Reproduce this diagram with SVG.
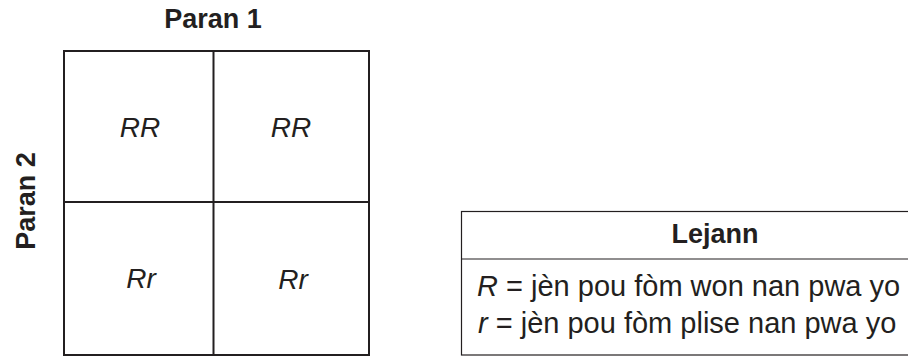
<svg xmlns="http://www.w3.org/2000/svg" width="908" height="358" viewBox="0 0 908 358">
<style>
text{font-family:"Liberation Sans",Arial,sans-serif;fill:#231f20;font-size:27px}
.b{font-weight:bold}
.i{font-style:italic}
.c{font-size:28px}
.lg{font-size:29px}
.ln{stroke:#231f20;fill:none}
</style>
<rect width="908" height="358" fill="#fff"/>
<g id="title"><text class="b" x="213" y="28" text-anchor="middle">Paran 1</text></g>
<g id="side"><text class="b" x="0" y="0" text-anchor="middle" transform="translate(35,201) rotate(-90)">Paran 2</text></g>
<g id="grid">
<rect class="ln" x="64" y="51" width="305" height="304" stroke-width="2"/>
<line class="ln" x1="213.5" y1="51" x2="213.5" y2="355" stroke-width="2"/>
<line class="ln" x1="64" y1="202" x2="369" y2="202" stroke-width="2"/>
</g>
<g id="c11"><text class="i c" x="140" y="137" text-anchor="middle">RR</text></g>
<g id="c12"><text class="i c" x="291" y="137" text-anchor="middle">RR</text></g>
<g id="c21"><text class="i c" x="141" y="288" text-anchor="middle">Rr</text></g>
<g id="c22"><text class="i c" x="293" y="289" text-anchor="middle">Rr</text></g>
<g id="legend">
<rect class="ln" x="461.5" y="211.5" width="460" height="143.5" stroke-width="1.2"/>
<line class="ln" x1="461.5" y1="259" x2="908" y2="259" stroke-width="1.2"/>
<text class="b" x="715" y="243" text-anchor="middle">Lejann</text>
<text class="lg" x="477" y="296"><tspan class="i">R</tspan> = jèn pou fòm won nan pwa yo</text>
<text class="lg" x="478" y="333"><tspan class="i">r</tspan> = jèn pou fòm plise nan pwa yo</text>
</g>
</svg>
